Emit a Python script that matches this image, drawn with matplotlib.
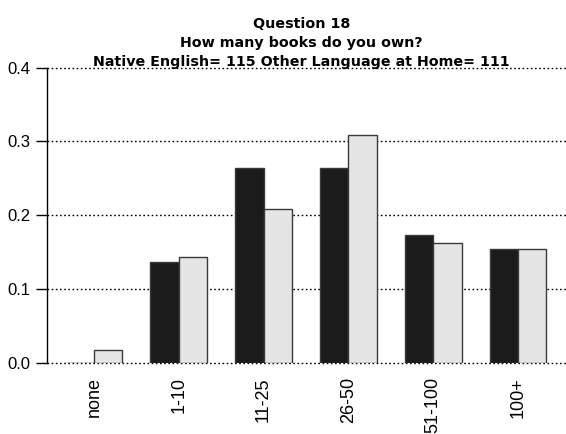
import matplotlib
matplotlib.use("Agg")
from matplotlib import pyplot as plt
import numpy as np

plt.rcParams['font.family'] = ['Liberation Sans', 'DejaVu Sans']

categories = ["none", "1-10", "11-25", "26-50", "51-100", "100+"]
native_english = [0.0, 0.137, 0.264, 0.264, 0.174, 0.155]
other_language = [0.0185, 0.144, 0.2085, 0.309, 0.1625, 0.155]
y_ticks = [0.0, 0.1, 0.2, 0.3, 0.4]
y_tick_labels = ["0.0", "0.1", "0.2", "0.3", "0.4"]
title_lines = ["Question 18", "How many books do you own?",
               "Native English= 115 Other Language at Home= 111"]

fig = plt.figure(figsize=(5.66, 4.34), dpi=100)
ax = fig.add_axes([47 / 566, 1 - 363.3 / 434, 1 - 47 / 566, (363.3 - 67.5) / 434])

x = np.arange(len(categories))
w = 0.336
ax.bar(x - w / 2, native_english, w, color="#1b1b1b", edgecolor="#3a3a3a",
       linewidth=1.0, zorder=3)
ax.bar(x + w / 2, other_language, w, color="#e5e5e5", edgecolor="#3a3a3a",
       linewidth=1.0, zorder=3)

ax.set_xlim(-0.554, 5.566)
ax.set_ylim(0, 0.4)
ax.set_yticks(y_ticks)
ax.set_yticklabels(y_tick_labels, fontsize=12)
ax.set_xticks(x)
ax.set_xticklabels(categories, rotation=90, fontsize=13)
ax.tick_params(axis="x", length=0, pad=10)
ax.tick_params(axis="y", length=8, width=1, pad=4, color="black")

ax.yaxis.grid(True, linestyle=(0, (1.2, 1.8)), color="black", linewidth=1.0, zorder=1)
for gl in ax.get_ygridlines():
    gl.set_clip_on(False)
ax.set_axisbelow(True)

for s in ["top", "right", "bottom"]:
    ax.spines[s].set_visible(False)
ax.spines["left"].set_linewidth(1.0)

fig.text(0.533, 1 - 66 / 434, "\n".join(title_lines), ha="center", va="baseline",
         fontsize=10.3, fontweight="bold", family="DejaVu Sans", linespacing=1.45)

fig.savefig("out.png", dpi=100)
